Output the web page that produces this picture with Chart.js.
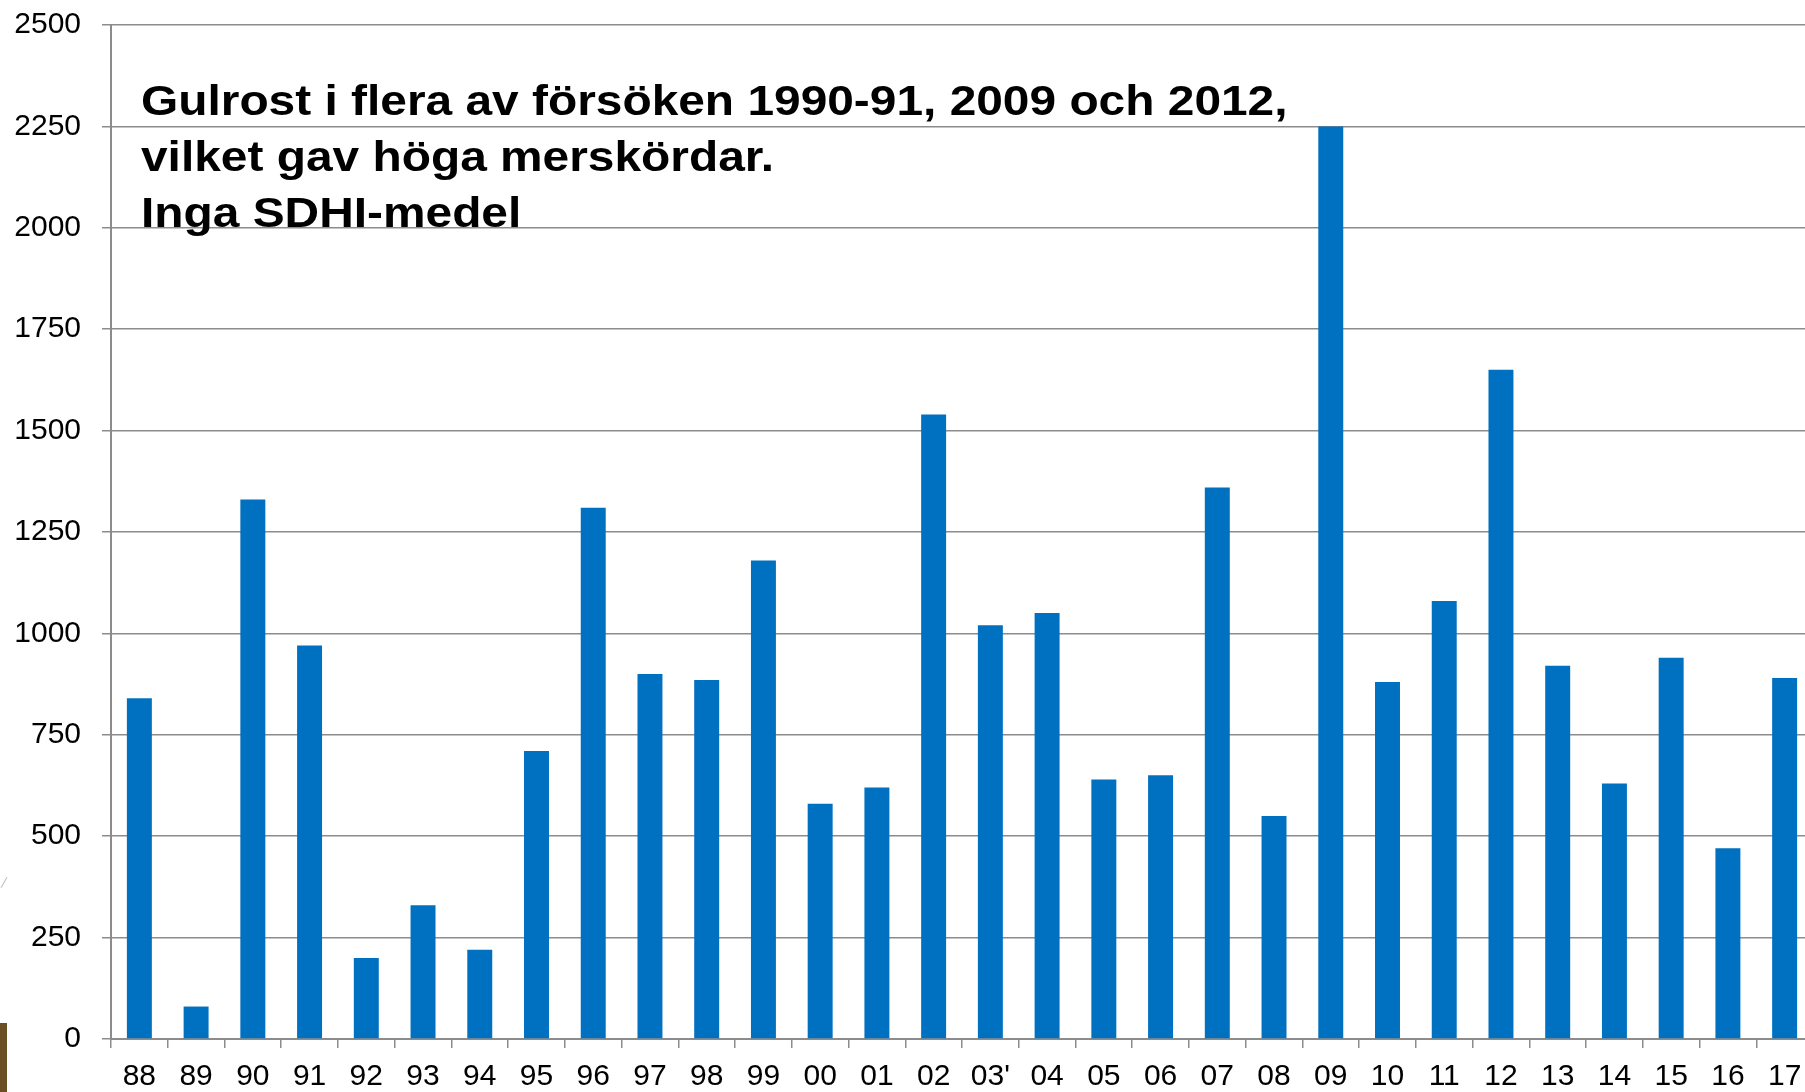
<!DOCTYPE html>
<html>
<head>
<meta charset="utf-8">
<script src="https://cdn.jsdelivr.net/npm/chart.js@4"></script>
<style>
  html, body { margin: 0; padding: 0; background: #fff; overflow: hidden; }
  #wrap { position: relative; width: 1813px; height: 1092px; }
  #note {
    position: absolute; left: 141px; top: 72px;
    font: bold 43px "Liberation Sans", Arial, sans-serif;
    line-height: 56px; color: #000; white-space: nowrap;
    transform: scaleX(1.113); transform-origin: 0 0;
  }
  #edge { position: absolute; left: 0; top: 1023px; width: 7px; height: 69px; background: #6b4e24; }
  #swoosh { position: absolute; left: -2px; top: 882px; width: 12px; height: 1px; background: #bbb; transform: rotate(-60deg); }
</style>
</head>
<body>
<div id="wrap">
  <canvas id="chart" width="1813" height="1092"></canvas>
  <div id="note">Gulrost i flera av försöken 1990-91, 2009 och 2012,<br>vilket gav höga merskördar.<br>Inga SDHI-medel</div>
  <div id="edge"></div>
  <div id="swoosh"></div>
</div>
<script>
// year labels (as printed on the axis)
const years = ['88', '89', '90', '91', '92', '93', '94', '95', '96', '97', '98', '99',
  '00', '01', '02', "03'", '04', '05', '06', '07', '08', '09', '10', '11', '12', '13',
  '14', '15', '16', '17'];

// extra yield per year
const yieldGain = [840, 80, 1330, 970, 200, 330, 220, 710, 1310, 900, 885, 1180,
  580, 620, 1540, 1020, 1050, 640, 650, 1360, 550, 2250, 880, 1080, 1650, 920,
  630, 940, 470, 890];

const yTicks = [0, 250, 500, 750, 1000, 1250, 1500, 1750, 2000, 2250, 2500];

const barBlue = '#0070c0';
const gridGray = '#8c8c8c';
const font = "'Liberation Sans', Arial, sans-serif";

new Chart(document.getElementById('chart'), {
  type: 'bar',
  data: {
    labels: years,
    datasets: [{
      data: yieldGain,
      backgroundColor: barBlue,
      borderWidth: 0,
      categoryPercentage: 0.88,
      barPercentage: 0.5
    }]
  },
  options: {
    responsive: false,
    animation: false,
    layout: { padding: { top: 25, left: 0, right: 0, bottom: 0 } },
    plugins: {
      legend: { display: false },
      tooltip: { enabled: false }
    },
    scales: {
      x: {
        grid: {
          offset: true,
          drawOnChartArea: false,
          drawTicks: true,
          tickLength: 9,
          color: gridGray,
          lineWidth: 1.5
        },
        border: { color: gridGray, width: 2 },
        ticks: {
          color: '#000',
          padding: 11,
          maxRotation: 0,
          autoSkip: false,
          font: { family: font, size: 30 }
        },
        afterFit: s => {
          s.height = 53;
          s.paddingLeft = 0;
          s.paddingRight = 0;
        }
      },
      y: {
        min: 0,
        max: 2500,
        afterBuildTicks: s => { s.ticks = yTicks.map(v => ({ value: v })); },
        grid: {
          color: gridGray,
          lineWidth: 1.5,
          tickLength: 9
        },
        border: { color: gridGray, width: 2 },
        ticks: {
          color: '#000',
          padding: 21,
          font: { family: font, size: 30 },
          callback: v => String(v)
        },
        afterFit: s => {
          s.width = 111;
          s.paddingTop = 0;
          s.paddingBottom = 0;
        }
      }
    }
  }
});
</script>
</body>
</html>
